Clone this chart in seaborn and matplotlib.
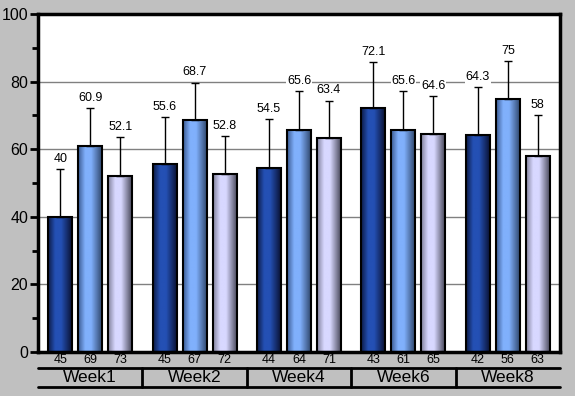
import numpy as np
import pandas as pd
import matplotlib
matplotlib.use("Agg")
import matplotlib.pyplot as plt
import seaborn as sns
from matplotlib.colors import LinearSegmentedColormap
from matplotlib.lines import Line2D
from matplotlib.transforms import blended_transform_factory

# data
weeks = ["Week1", "Week2", "Week4", "Week6", "Week8"]
series = ["A", "B", "C"]
values_a = [40, 55.6, 54.5, 72.1, 64.3]
values_b = [60.9, 68.7, 65.6, 65.6, 75]
values_c = [52.1, 52.8, 63.4, 64.6, 58]
errors_a = [14.0, 14.0, 14.4, 13.7, 14.0]
errors_b = [11.3, 11.0, 11.6, 11.6, 11.0]
errors_c = [11.5, 11.0, 11.0, 11.0, 12.0]
counts_a = [45, 45, 44, 43, 42]
counts_b = [69, 67, 64, 61, 56]
counts_c = [73, 72, 71, 65, 63]
y_ticks = [0, 20, 40, 60, 80, 100]

values = [values_a, values_b, values_c]
errors = [errors_a, errors_b, errors_c]
counts = [counts_a, counts_b, counts_c]

df = pd.DataFrame({
    "week": weeks * 3,
    "series": [s for s in series for _ in weeks],
    "value": values_a + values_b + values_c,
})

# gradient stops per series (left edge, body, body, right edge)
gradients = [
    ["#0c1a44", "#2450b4", "#2450b4", "#0a1234"],
    ["#3a5a90", "#80b0fc", "#80b0fc", "#30486e"],
    ["#80809a", "#d8d8ff", "#d8d8ff", "#4a4a5c"],
]
stops = [0.0, 0.3, 0.55, 1.0]

sns.set_style("white")
plt.rcParams["font.family"] = ["Liberation Sans", "DejaVu Sans"]
plt.rcParams["text.color"] = "black"
plt.rcParams["ytick.color"] = "black"

fig = plt.figure(figsize=(5.75, 3.96), dpi=100, facecolor="#c0c0c0")
ax = fig.add_axes([38 / 575, 44 / 396, 522 / 575, 338 / 396])
ax.set_facecolor("white")

sns.barplot(data=df, x="week", y="value", hue="series", hue_order=series,
            order=weeks, width=0.862, gap=0.2, palette=["#2450b4", "#80b0fc", "#d8d8ff"],
            errorbar=None, legend=False, ax=ax, zorder=3)

bar_conts = list(ax.containers)

grad = np.linspace(0, 1, 128).reshape(1, -1)
trans_lab = blended_transform_factory(ax.transData, ax.transAxes)
for i, cont in enumerate(bar_conts):
    cmap = LinearSegmentedColormap.from_list(f"g{i}", list(zip(stops, gradients[i])))
    xs = []
    for bar in cont:
        x0, w, h = bar.get_x(), bar.get_width(), bar.get_height()
        im = ax.imshow(grad, extent=[x0, x0 + w, 0, h], cmap=cmap, aspect="auto",
                       zorder=2.5, interpolation="bilinear")
        im.set_clip_path(bar)
        bar.set_facecolor("none")
        bar.set_edgecolor("black")
        bar.set_linewidth(1.5)
        xs.append(x0 + w / 2)
    ax.errorbar(xs, values[i], yerr=[[0] * len(xs), errors[i]], fmt="none",
                ecolor="black", elinewidth=1, capsize=2.8, capthick=1, zorder=4)
    for x, v, e, n in zip(xs, values[i], errors[i], counts[i]):
        ax.annotate(f"{v:g}", (x, v + e), xytext=(0, 3), textcoords="offset points",
                    ha="center", va="bottom", fontsize=9, zorder=5, color="black",
                    bbox=dict(facecolor="white", edgecolor="none", pad=0.5))
        ax.text(x, -0.024, str(n), transform=trans_lab, ha="center", va="center",
                fontsize=9, clip_on=False, color="black")

ax.set_xlim(-0.5, len(weeks) - 0.5)
ax.set_ylim(0, 100)

# axis styling
ax.set_xticks([])
ax.set_xlabel("")
ax.set_ylabel("")
ax.set_yticks(y_ticks)
ax.set_yticks(np.arange(10, 100, 20), minor=True)
ax.tick_params(axis="y", which="major", length=6, width=2, direction="out",
               labelsize=11.5, pad=1, left=True, colors="black")
ax.tick_params(axis="y", which="minor", length=4, width=2, direction="out", left=True,
               colors="black")
for yv in [20, 40, 60, 80]:
    ax.axhline(yv, color="#808080", lw=1, zorder=1)
for sp in ax.spines.values():
    sp.set_visible(True)
    sp.set_color("black")
    sp.set_linewidth(2.5)

# week group boxes below the axis
y_top, y_bot = -0.0473, -0.1036
ax.add_line(Line2D([-0.5, len(weeks) - 0.5], [y_top, y_top], transform=trans_lab,
                   color="black", lw=2, clip_on=False))
ax.add_line(Line2D([-0.5, len(weeks) - 0.5], [y_bot, y_bot], transform=trans_lab,
                   color="black", lw=2, clip_on=False))
for k in range(1, len(weeks)):
    ax.add_line(Line2D([k - 0.5, k - 0.5], [y_top, y_bot], transform=trans_lab,
                       color="black", lw=2, clip_on=False))
for k, wk in enumerate(weeks):
    ax.text(k, (y_top + y_bot) / 2, wk, transform=trans_lab, ha="center",
            va="center", fontsize=12.5, clip_on=False, color="black")

fig.savefig("out.png", dpi=100, facecolor=fig.get_facecolor())
